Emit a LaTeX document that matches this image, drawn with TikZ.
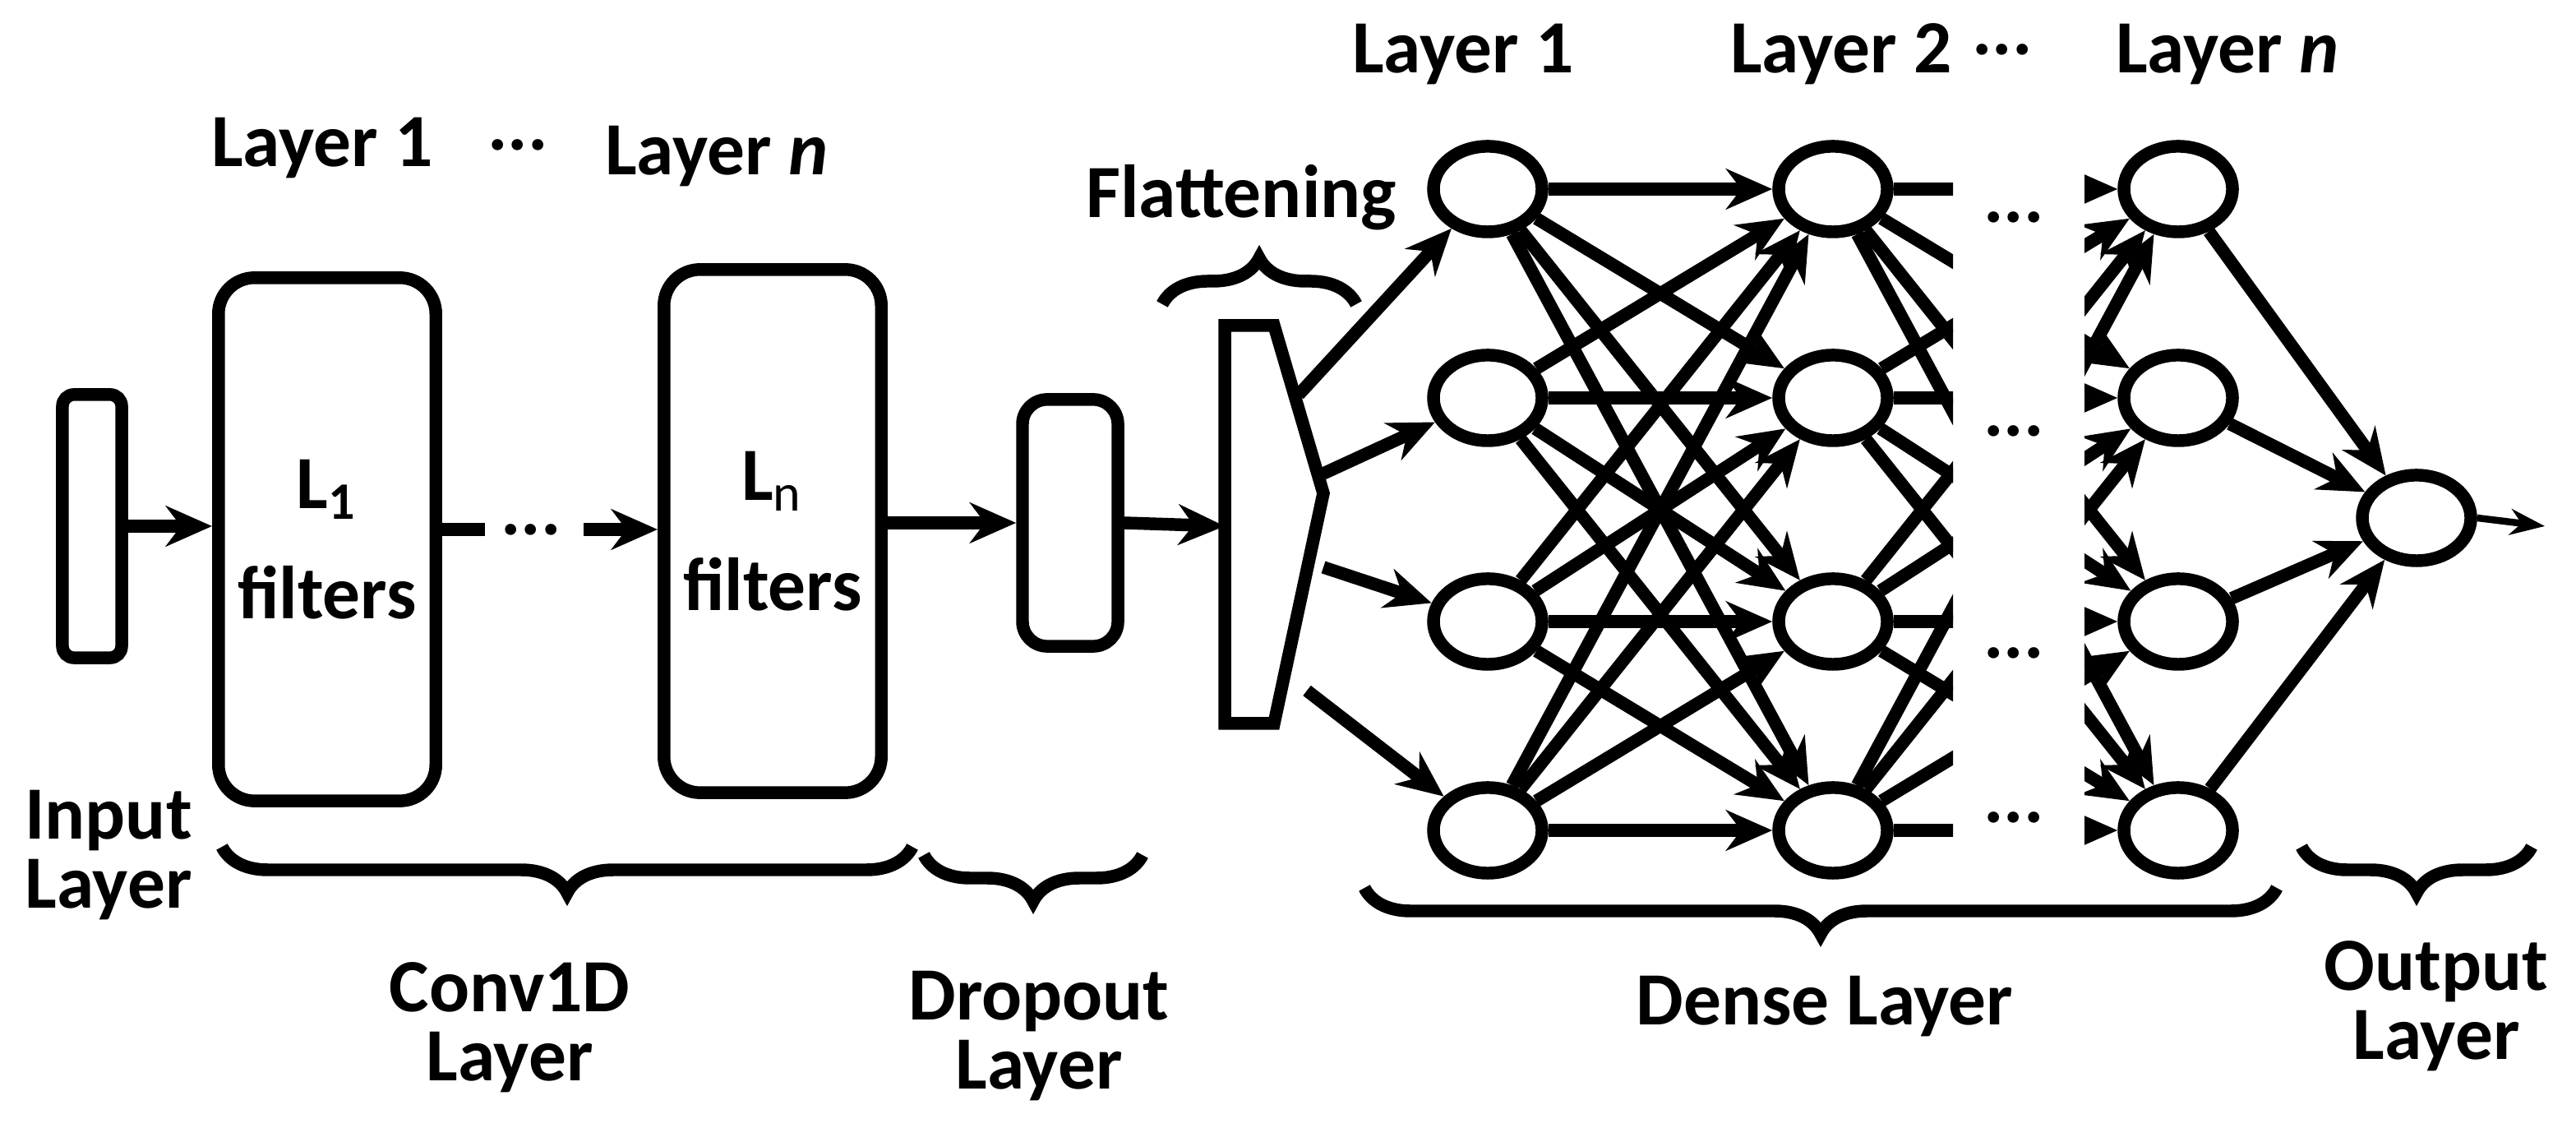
\documentclass[tikz,border=0pt]{standalone}
\usepackage{fontspec}
\setmainfont{Carlito}
\usetikzlibrary{decorations.pathreplacing,arrows.meta,shapes.geometric}
\begin{document}
\begin{tikzpicture}[x=0.01cm,y=-0.01cm,
 lw/.style={line width=2.2pt},
 box/.style={draw,lw,rounded corners=0.22cm,minimum width=1.28cm,minimum height=3.18cm},
 neu/.style={draw,lw,ellipse,minimum width=0.66cm,minimum height=0.52cm,inner sep=0},
 ar/.style={lw,-{Stealth[length=8pt,width=7pt]}},
 lab/.style={font=\fontsize{13}{15}\selectfont\bfseries,align=center},
 br/.style={lw,decorate,decoration={brace,amplitude=0.28cm}}]
\useasboundingbox (0,0) rectangle (1567,686);
\node[draw,lw,rounded corners=2pt,minimum width=0.36cm,minimum height=1.6cm] (in) at (56,320) {};
\node[box,lab] (l1) at (199,328) {L$_{\mathbf 1}$\\[4pt]filters};
\node[box,lab] (ln) at (470,323) {L$_{\mathrm n}$\\[4pt]filters};
\node[lab] (d1) at (323,322) {...};
\draw[ar] (in) -- (l1.west|-in);
\draw[lw] (l1.east|-d1) -- (295,322);
\draw[ar] (355,322) -- (ln.west|-d1);
\node[draw,lw,rounded corners=0.15cm,minimum width=0.58cm,minimum height=1.5cm] (dr) at (651,318) {};
\draw[ar] (ln.east|-dr) -- (dr.west);
\draw[lw] (745,198) coordinate (f1) -- (775,198) -- (805,300) coordinate (fr) -- (775,440) -- (745,440) -- cycle;
\coordinate (fl) at (745,320);
\draw[ar] (dr.east) -- (fl);
\foreach \c/\x in {a/905,b/1115,n/1325}
 \foreach \r/\y in {1/115,2/242,3/378,4/505}
  \node[neu] (\c\r) at (\x,\y) {};
\node[neu] (o) at (1470,315) {};
\coordinate (f1s) at (790,240); \coordinate (f2s) at (805,288);
\coordinate (f3s) at (805,345); \coordinate (f4s) at (795,420);
\foreach \i in {1,...,4} \draw[ar] (f\i s) -- (a\i);
\foreach \i in {1,...,4} \foreach \j in {1,...,4} \draw[ar] (a\i) -- (b\j);
\begin{scope}
\clip (1100,60) rectangle (1188,560);
\foreach \i in {1,...,4} \foreach \j in {1,...,4} \draw[lw] (b\i) -- (n\j);
\end{scope}
\begin{scope}
\clip (1268,60) rectangle (1400,560);
\foreach \i in {1,...,4} \foreach \j in {1,...,4} \draw[ar] (b\i) -- (n\j);
\end{scope}
\foreach \y in {140,270,405,505} \node[lab] at (1225,\y-8) {...};
\foreach \j in {1,...,4} \draw[ar] (n\j) -- (o);
\coordinate (oe) at (1548,320);
\draw[line width=1.2pt,-{Stealth[length=6pt]}] (o.east) -- (oe);
\node[lab] at (196,90) {Layer 1};
\node[lab] at (315,88) {...};
\node[lab] at (436,95) {Layer \textit{n}};
\node[lab] at (890,33) {Layer 1};
\node[lab] at (1120,33) {Layer 2};
\node[lab] at (1218,30) {...};
\node[lab] at (1355,33) {Layer \textit{n}};
\node[lab] at (755,120) {Flattening};
\draw[br] (707,185) -- (825,185);
\node[lab] at (66,520) {Input\\[-3pt]Layer};
\draw[br] (555,515) -- (135,515);
\node[lab] at (310,625) {Conv1D\\[-3pt]Layer};
\draw[br] (695,520) -- (562,520);
\node[lab] at (632,630) {Dropout\\[-3pt]Layer};
\draw[br] (1385,540) -- (830,540);
\node[lab] at (1110,612) {Dense Layer};
\draw[br] (1540,515) -- (1400,515);
\node[lab] at (1482,612) {Output\\[-3pt]Layer};
\end{tikzpicture}
\end{document}
